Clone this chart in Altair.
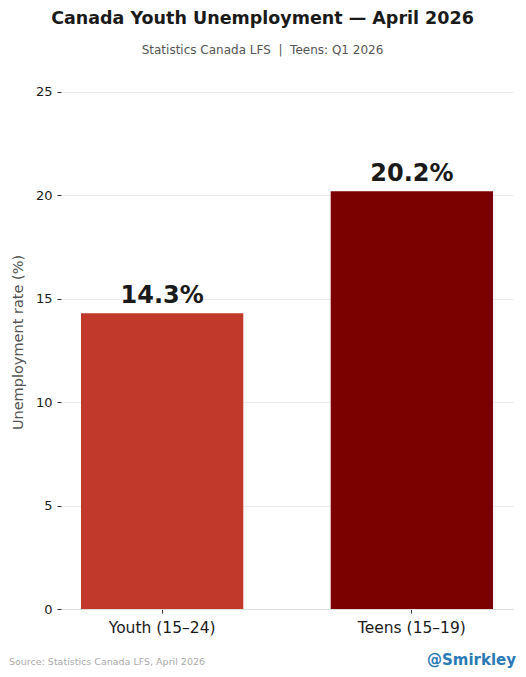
import altair as alt
import pandas as pd

groups = ["Youth (15–24)", "Teens (15–19)"]
rates = [14.3, 20.2]
colors = ["#c0392b", "#7b0000"]
labels = ["14.3%", "20.2%"]
y_ticks = [0, 5, 10, 15, 20, 25]

df = pd.DataFrame({"group": groups, "rate": rates, "label": labels})

FONT = "DejaVu Sans"

base = alt.Chart(df).encode(
    x=alt.X(
        "group:N",
        sort=groups,
        scale=alt.Scale(paddingInner=0.35, paddingOuter=0.08),
        axis=alt.Axis(
            title=None,
            labelAngle=0,
            labelFont=FONT,
            labelFontSize=15.5,
            labelColor="#1a1a1a",
            domain=True,
            domainColor="#dddddd",
            ticks=True,
            tickColor="#333333",
            tickSize=4,
            labelPadding=7,
            grid=False,
        ),
    ),
    y=alt.Y(
        "rate:Q",
        scale=alt.Scale(domain=[0, 25.82], nice=False, zero=True),
        axis=alt.Axis(
            title="Unemployment rate (%)",
            titleFont=FONT,
            titleFontSize=14.5,
            titleFontWeight="normal",
            titleColor="#555555",
            titlePadding=10,
            values=y_ticks,
            labelFont=FONT,
            labelFontSize=13,
            labelColor="#1a1a1a",
            labelPadding=5,
            domain=False,
            ticks=True,
            tickColor="#333333",
            tickSize=4,
            grid=True,
            gridColor="#ebebeb",
        ),
    ),
)

bars = base.mark_bar().encode(
    color=alt.Color(
        "group:N",
        scale=alt.Scale(domain=groups, range=colors),
        legend=None,
    )
)

text = base.mark_text(
    font=FONT, fontSize=24, fontWeight="bold", color="#1a1a1a", baseline="alphabetic", dy=-10
).encode(text="label:N")

source = alt.Chart(pd.DataFrame({"t": ["Source: Statistics Canada LFS, April 2026"]})).mark_text(
    font=FONT, fontSize=9.5, color="#aaaaaa", align="left", baseline="middle"
).encode(x=alt.value(-52), y=alt.value(587), text="t:N")

handle = alt.Chart(pd.DataFrame({"t": ["@Smirkley"]})).mark_text(
    font=FONT, fontSize=15, fontWeight="bold", color="#2a7ab5", align="right", baseline="middle"
).encode(x=alt.value(455), y=alt.value(585), text="t:N")

chart = alt.layer(bars, text, source, handle).properties(
    width=452,
    height=534,
    background="white",
    padding={"left": 1, "top": 1, "right": 0, "bottom": 0},
    title=alt.TitleParams(
        "Canada Youth Unemployment — April 2026",
        subtitle="Statistics Canada LFS \u00a0|\u00a0 Teens: Q1 2026",
        font=FONT,
        fontSize=17.5,
        fontWeight="bold",
        color="#1a1a1a",
        subtitleFont=FONT,
        subtitleFontSize=12,
        subtitleColor="#555555",
        subtitlePadding=18,
        anchor="middle",
        frame="bounds",
        offset=19,
    ),
).configure_view(stroke="transparent", strokeWidth=0)

chart.save("out.html", embed_options={"renderer": "svg", "actions": False})
